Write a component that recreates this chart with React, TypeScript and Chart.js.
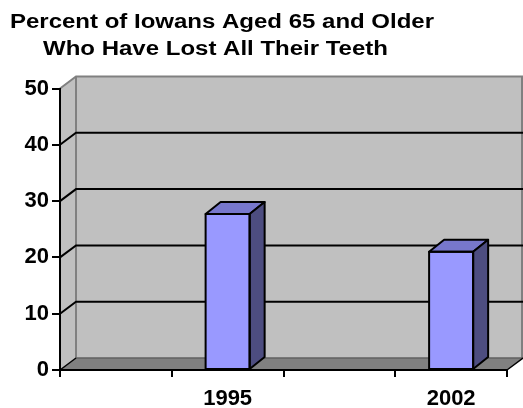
import { useEffect, useRef } from "react";
import { Chart, registerables } from "chart.js";

Chart.register(...registerables);

const titleLines = ["Percent of Iowans Aged 65 and Older", "Who Have Lost All Their Teeth"];
const categories = ["", "1995", "", "2002"];
const percentLost: (number | null)[] = [null, 27.7, null, 21];
const yMin = 0;
const yMax = 50;
const yStep = 10;

const FONT = "'Liberation Sans', Arial, Helvetica, sans-serif";
const WALL_DX = 16;
const WALL_DY = -12;
const BAR_DX = 15;
const BAR_DY = -12;

const threeD = {
  id: "threeD",
  beforeDraw(chart: any) {
    const { ctx, chartArea } = chart;
    const { left, right, top, bottom } = chartArea;
    const y = chart.scales.y;
    const bl = left + WALL_DX;
    const br = right + WALL_DX;
    const bt = top + WALL_DY;
    const bb = bottom + WALL_DY;
    ctx.save();
    ctx.fillStyle = "#C0C0C0";
    ctx.fillRect(bl, bt, br - bl, bb - bt);
    ctx.beginPath();
    ctx.moveTo(left, top);
    ctx.lineTo(bl, bt);
    ctx.lineTo(bl, bb);
    ctx.lineTo(left, bottom);
    ctx.closePath();
    ctx.fill();
    ctx.fillStyle = "#808080";
    ctx.beginPath();
    ctx.moveTo(left, bottom);
    ctx.lineTo(bl, bb);
    ctx.lineTo(br, bb);
    ctx.lineTo(right, bottom);
    ctx.closePath();
    ctx.fill();
    ctx.strokeStyle = "#808080";
    ctx.lineWidth = 2;
    ctx.beginPath();
    ctx.moveTo(left, top);
    ctx.lineTo(bl, bt);
    ctx.lineTo(br - 1, bt);
    ctx.lineTo(br - 1, bb);
    ctx.moveTo(bl, bt);
    ctx.lineTo(bl, bb);
    ctx.stroke();
    ctx.strokeStyle = "#606060";
    ctx.lineWidth = 1.5;
    ctx.beginPath();
    ctx.moveTo(bl, bb);
    ctx.lineTo(br, bb);
    ctx.stroke();
    ctx.strokeStyle = "#000000";
    ctx.lineWidth = 1.5;
    ctx.beginPath();
    ctx.moveTo(left, bottom);
    ctx.lineTo(bl, bb);
    ctx.moveTo(right, bottom);
    ctx.lineTo(br, bb);
    ctx.stroke();
    ctx.lineWidth = 2;
    y.ticks.forEach((t: any) => {
      if (t.value <= y.min || t.value >= y.max) return;
      const py = y.getPixelForValue(t.value);
      ctx.beginPath();
      ctx.moveTo(left, py);
      ctx.lineTo(bl, py + WALL_DY);
      ctx.lineTo(br, py + WALL_DY);
      ctx.stroke();
    });
    ctx.restore();
  },
  afterDatasetsDraw(chart: any) {
    const { ctx } = chart;
    const meta = chart.getDatasetMeta(0);
    const data = chart.data.datasets[0].data;
    ctx.save();
    ctx.lineWidth = 2;
    ctx.strokeStyle = "#000000";
    ctx.lineJoin = "round";
    meta.data.forEach((bar: any, i: number) => {
      if (data[i] == null) return;
      const { x, y, base, width } = bar.getProps(["x", "y", "base", "width"], true);
      const l = x - width / 2;
      const r = x + width / 2;
      ctx.fillStyle = "#7777CC";
      ctx.beginPath();
      ctx.moveTo(l, y);
      ctx.lineTo(l + BAR_DX, y + BAR_DY);
      ctx.lineTo(r + BAR_DX, y + BAR_DY);
      ctx.lineTo(r, y);
      ctx.closePath();
      ctx.fill();
      ctx.stroke();
      ctx.fillStyle = "#4D4D80";
      ctx.beginPath();
      ctx.moveTo(r, y);
      ctx.lineTo(r + BAR_DX, y + BAR_DY);
      ctx.lineTo(r + BAR_DX, base + BAR_DY);
      ctx.lineTo(r, base);
      ctx.closePath();
      ctx.fill();
      ctx.stroke();
      ctx.strokeRect(l, y, width, base - y);
    });
    ctx.restore();
  },
  afterDraw(chart: any) {
    const { ctx } = chart;
    ctx.save();
    ctx.fillStyle = "#000000";
    ctx.font = `bold 20px ${FONT}`;
    ctx.textAlign = "center";
    ctx.textBaseline = "alphabetic";
    const centers = [222, 215.5];
    const baselines = [28, 54.5];
    titleLines.forEach((line, i) => {
      ctx.save();
      ctx.translate(centers[i], baselines[i]);
      ctx.scale(1.2, 1);
      ctx.fillText(line, 0, 0);
      ctx.restore();
    });
    ctx.restore();
  },
};

export default function App() {
  const ref = useRef<HTMLCanvasElement | null>(null);
  useEffect(() => {
    if (!ref.current) return;
    const chart = new Chart(ref.current, {
      type: "bar",
      data: {
        labels: categories,
        datasets: [
          {
            data: percentLost as any,
            backgroundColor: "#9999FF",
            borderColor: "#000000",
            borderWidth: 0,
            barPercentage: 0.394,
            categoryPercentage: 1,
          },
        ],
      },
      options: {
        animation: false,
        responsive: true,
        maintainAspectRatio: false,
        layout: { padding: { top: 88.5, right: 16, left: 0, bottom: 0 } },
        plugins: {
          legend: { display: false },
          title: { display: false },
          tooltip: { enabled: false },
        },
        scales: {
          x: {
            type: "category",
            offset: true,
            grid: {
              display: true,
              offset: true,
              drawOnChartArea: false,
              drawTicks: true,
              tickLength: 7,
              color: "#000000",
              lineWidth: 2,
            },
            border: { display: true, color: "#000000", width: 2 },
            ticks: {
              color: "#000000",
              font: { family: FONT, size: 22, weight: "bold" },
              padding: 9,
              maxRotation: 0,
              autoSkip: false,
            },
            afterFit: (scale: any) => {
              scale.height = 38;
            },
          },
          y: {
            min: yMin,
            max: yMax,
            grid: {
              display: true,
              drawOnChartArea: false,
              drawTicks: true,
              tickLength: 8,
              color: "#000000",
              lineWidth: 2,
            },
            border: { display: true, color: "#000000", width: 2 },
            ticks: {
              stepSize: yStep,
              color: "#000000",
              font: { family: FONT, size: 22, weight: "bold" },
              padding: 3,
            },
            afterFit: (scale: any) => {
              scale.width = 60;
            },
          },
        },
      },
      plugins: [threeD],
    });
    return () => chart.destroy();
  }, []);
  return (
    <div style={{ position: "fixed", left: 0, top: 0, width: 523, height: 408, background: "#FFFFFF" }}>
      <canvas ref={ref} />
    </div>
  );
}
